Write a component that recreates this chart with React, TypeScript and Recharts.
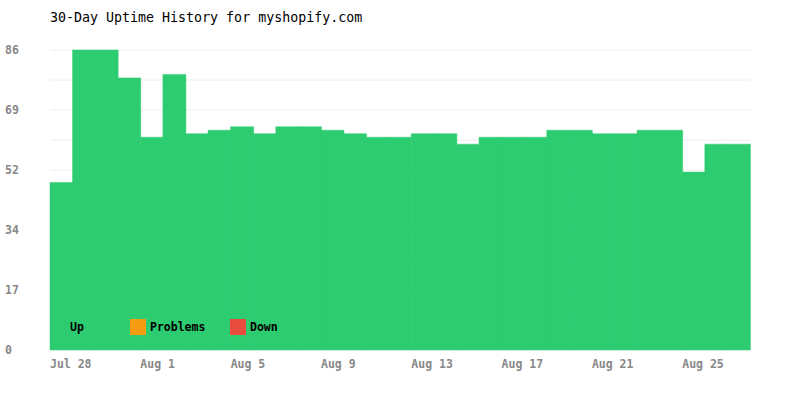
import React from 'react';
import { BarChart, Bar, XAxis, YAxis, CartesianGrid } from 'recharts';

const days = [
  'Jul 28', 'Jul 29', 'Jul 30', 'Jul 31', 'Aug 1', 'Aug 2', 'Aug 3', 'Aug 4',
  'Aug 5', 'Aug 6', 'Aug 7', 'Aug 8', 'Aug 9', 'Aug 10', 'Aug 11', 'Aug 12',
  'Aug 13', 'Aug 14', 'Aug 15', 'Aug 16', 'Aug 17', 'Aug 18', 'Aug 19', 'Aug 20',
  'Aug 21', 'Aug 22', 'Aug 23', 'Aug 24', 'Aug 25', 'Aug 26', 'Aug 27',
];
const upValues = [
  48, 86, 86, 78, 61, 79, 62, 63, 64, 62, 64, 64, 63, 62, 61, 61,
  62, 62, 59, 61, 61, 61, 63, 63, 62, 62, 63, 63, 51, 59, 59,
];
const problemValues = days.map(() => 0);
const downValues = days.map(() => 0);

const yTicks = [0, 17.2, 34.4, 51.6, 68.8, 86];
const gridValues = [8.6, 17.2, 25.8, 34.4, 43, 51.6, 60.2, 68.8, 77.4, 86];

const legendItems = [
  { name: 'Up', color: '#2ecc71', width: 80 },
  { name: 'Problems', color: '#f39c12', width: 100 },
  { name: 'Down', color: '#e74c3c', width: 100 },
];

const data = days.map((day, i) => ({
  day,
  up: upValues[i],
  problems: problemValues[i],
  down: downValues[i],
}));

const FONT = '"DejaVu Sans Mono", "Liberation Mono", monospace';
const WIDTH = 800;
const HEIGHT = 400;
const PLOT_LEFT = 50;
const PLOT_RIGHT = 750;
const band = (PLOT_RIGHT - PLOT_LEFT) / days.length;

const XTick = (props: any) => {
  const { x, y, payload } = props;
  return (
    <text
      x={x - band / 2}
      y={y}
      dy="0.9em"
      textAnchor="start"
      fill="#888"
      fontFamily={FONT}
      fontWeight="bold"
      fontSize={11.5}
    >
      {payload.value}
    </text>
  );
};

const YTick = (props: any) => {
  const { y, payload } = props;
  return (
    <text
      x={5}
      y={y}
      dy="0.35em"
      textAnchor="start"
      fill="#888"
      fontFamily={FONT}
      fontWeight="bold"
      fontSize={11.5}
    >
      {Math.round(payload.value)}
    </text>
  );
};

export default function App() {
  return (
    <div style={{ position: 'absolute', left: 0, top: 0, width: WIDTH, height: HEIGHT, background: '#fff' }}>
      <div
        style={{
          position: 'absolute',
          left: 50,
          top: 10,
          lineHeight: '16px',
          fontFamily: FONT,
          fontSize: 13.3,
          color: '#000',
        }}
      >
        30-Day Uptime History for myshopify.com
      </div>
      <BarChart
        width={WIDTH}
        height={HEIGHT}
        data={data}
        margin={{ top: 50, right: 50, bottom: 20, left: 5 }}
        barCategoryGap={0}
        barGap={0}
      >
        <CartesianGrid
          horizontal
          vertical={false}
          stroke="#eee"
          horizontalValues={gridValues}
        />
        <XAxis
          dataKey="day"
          height={30}
          interval={3}
          axisLine={false}
          tickLine={false}
          tick={<XTick />}
        />
        <YAxis
          width={45}
          domain={[0, 86]}
          ticks={yTicks}
          axisLine={false}
          tickLine={false}
          tick={<YTick />}
        />
        <Bar dataKey="up" stackId="s" fill="#2ecc71" stroke="#2ecc71" strokeWidth={0.5} isAnimationActive={false} />
        <Bar dataKey="problems" stackId="s" fill="#f39c12" isAnimationActive={false} />
        <Bar dataKey="down" stackId="s" fill="#e74c3c" isAnimationActive={false} />
      </BarChart>
      <div
        style={{
          position: 'absolute',
          left: 50,
          top: 319,
          display: 'flex',
          fontFamily: FONT,
          fontWeight: 'bold',
          fontSize: 11.5,
        }}
      >
        {legendItems.map((item) => (
          <div key={item.name} style={{ display: 'flex', alignItems: 'center', width: item.width }}>
            <span style={{ width: 16, height: 16, background: item.color, marginRight: 4, flexShrink: 0 }} />
            <span style={{ color: '#000' }}>{item.name}</span>
          </div>
        ))}
      </div>
    </div>
  );
}
